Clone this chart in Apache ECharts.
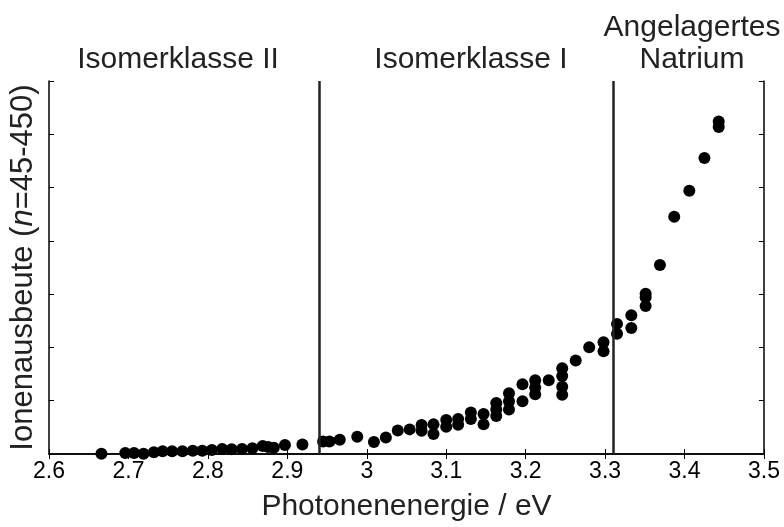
<!DOCTYPE html>
<html>
<head>
<meta charset="utf-8">
<script src="https://cdn.jsdelivr.net/npm/echarts@6/dist/echarts.min.js"></script>
<style>
html,body{margin:0;padding:0;background:#fff;}
#chart{width:784px;height:527px;}
</style>
</head>
<body>
<div id="chart"></div>
<script>
// Photon energy (eV) and ion yield (arb. units)
var energy = [
  2.666, 2.696, 2.707, 2.719, 2.732, 2.743, 2.755, 2.768, 2.781, 2.793,
  2.805, 2.818, 2.830, 2.843, 2.856, 2.869, 2.876, 2.883, 2.897, 2.919,
  2.945, 2.953, 2.966, 2.988, 3.009, 3.024, 3.039, 3.054,
  3.069, 3.069, 3.084, 3.084, 3.100, 3.100, 3.115, 3.115, 3.131, 3.131,
  3.147, 3.147, 3.163, 3.163, 3.163, 3.179, 3.179, 3.179, 3.196, 3.196,
  3.212, 3.212, 3.212, 3.229, 3.246, 3.246, 3.246, 3.246, 3.263, 3.280,
  3.298, 3.298, 3.315, 3.315, 3.333, 3.333, 3.351, 3.351, 3.351, 3.369,
  3.387, 3.406, 3.425, 3.443, 3.443
];
var ionYield = [
  0.006, 0.019, 0.019, 0.006, 0.032, 0.051, 0.051, 0.051, 0.062, 0.062,
  0.075, 0.094, 0.088, 0.094, 0.107, 0.150, 0.131, 0.118, 0.168, 0.178,
  0.234, 0.234, 0.268, 0.322, 0.225, 0.309, 0.440, 0.462,
  0.543, 0.436, 0.556, 0.374, 0.636, 0.511, 0.655, 0.548, 0.780, 0.655,
  0.749, 0.556, 0.955, 0.833, 0.711, 1.142, 0.992, 0.833, 1.310, 0.992,
  1.385, 1.248, 1.123, 1.385, 1.610, 1.465, 1.263, 1.114, 1.754, 2.003,
  2.096, 1.928, 2.442, 2.255, 2.602, 2.364, 3.008, 2.944, 2.776, 3.547,
  4.451, 4.941, 5.553, 6.238, 6.135
];
var dividers = [2.94, 3.31];
var regionLabels = ['Isomerklasse II', 'Isomerklasse I', 'Angelagertes', 'Natrium'];
var xTitle = 'Photonenenergie / eV';

var points = energy.map(function (e, i) { return [e, ionYield[i]]; });

var chart = echarts.init(document.getElementById('chart'), null, {renderer: 'canvas'});
var FONT = 'Liberation Sans, Arial, sans-serif';
var axisLine = {show: true, lineStyle: {color: '#000', width: 1.5}};
var tick = {show: true, inside: true, length: 5, lineStyle: {color: '#000', width: 1}};

chart.setOption({
  animation: false,
  backgroundColor: '#fff',
  grid: {left: 48, right: 20, top: 81, bottom: 72},
  xAxis: [{
    type: 'value', min: 2.6, max: 3.5, interval: 0.1,
    axisLine: axisLine, axisTick: tick, splitLine: {show: false},
    axisLabel: {fontSize: 23, color: '#000', fontFamily: FONT, margin: 6,
      formatter: function (v) { return String(Math.round(v * 10) / 10); }},
    name: xTitle, nameLocation: 'middle', nameGap: 38,
    nameTextStyle: {fontSize: 30, color: '#222', fontFamily: FONT}
  }, {
    type: 'value', position: 'top', min: 2.6, max: 3.5, interval: 0.1,
    axisLine: axisLine, axisTick: tick, axisLabel: {show: false}, splitLine: {show: false}
  }],
  yAxis: [{
    type: 'value', min: 0, max: 7, interval: 1,
    axisLine: axisLine, axisTick: tick, axisLabel: {show: false}, splitLine: {show: false},
    name: '{a|Ionenausbeute (}{i|n}{a|=45-450)}', nameLocation: 'middle', nameGap: 10,
    nameRotate: 90,
    nameTextStyle: {
      rich: {
        a: {fontSize: 31, color: '#222', fontFamily: FONT},
        i: {fontSize: 31, color: '#222', fontFamily: FONT, fontStyle: 'italic'}
      }
    }
  }, {
    type: 'value', position: 'right', min: 0, max: 7, interval: 1,
    axisLine: axisLine, axisTick: tick, axisLabel: {show: false}, splitLine: {show: false}
  }],
  series: [{
    type: 'scatter',
    data: points,
    symbol: 'circle',
    symbolSize: 12,
    clip: false,
    itemStyle: {color: '#000', opacity: 1},
    markLine: {
      silent: true,
      symbol: ['none', 'none'],
      label: {show: false},
      lineStyle: {color: '#222', width: 2.5, type: 'solid'},
      data: dividers.map(function (d) { return {xAxis: d}; })
    }
  }],
  graphic: [
    {type: 'text', x: 178, y: 60, style: {text: regionLabels[0], fill: '#222', fontSize: 30, fontFamily: FONT, textAlign: 'center', textVerticalAlign: 'middle'}},
    {type: 'text', x: 471, y: 60, style: {text: regionLabels[1], fill: '#222', fontSize: 30, fontFamily: FONT, textAlign: 'center', textVerticalAlign: 'middle'}},
    {type: 'text', x: 692, y: 28, style: {text: regionLabels[2], fill: '#222', fontSize: 30, fontFamily: FONT, textAlign: 'center', textVerticalAlign: 'middle'}},
    {type: 'text', x: 692, y: 60, style: {text: regionLabels[3], fill: '#222', fontSize: 30, fontFamily: FONT, textAlign: 'center', textVerticalAlign: 'middle'}}
  ]
});
</script>
</body>
</html>
